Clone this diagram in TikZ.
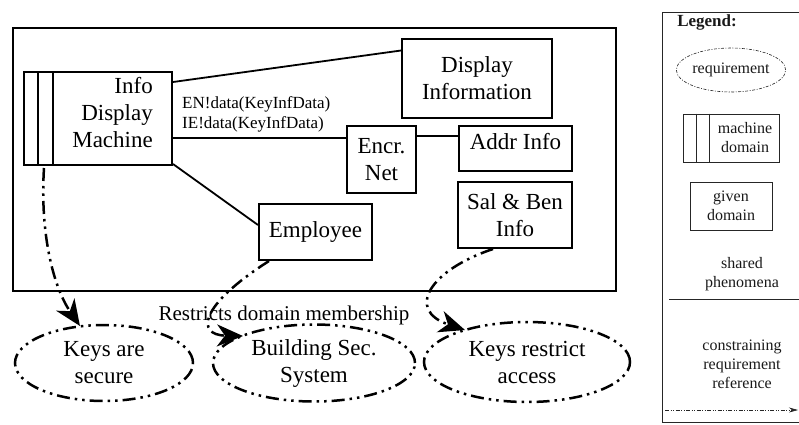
\documentclass[tikz,border=0pt]{standalone}
\usepackage{fontspec}
\setmainfont{Liberation Serif}
\usetikzlibrary{shapes.geometric,arrows.meta,calc}

\tikzset{
  dashdotdot/.style={dash pattern=on 13pt off 5pt on 2.5pt off 5pt on 2.5pt off 5pt},
  bigtxt/.style={font=\fontsize{23}{27}\selectfont},
  dombox/.style={draw, line width=2pt, rectangle, inner sep=0pt, align=center, bigtxt},
  reqell/.style={draw, ellipse, line width=2.5pt, dashdotdot, inner sep=0pt, align=center, bigtxt},
  phen/.style={line width=1.8pt},
  reqref/.style={line width=2.5pt, dashdotdot, -{Stealth[length=26pt,width=22pt,inset=8pt]}},
  lgline/.style={line width=0.8pt, draw=black!85},
  lgtxt/.style={font=\fontsize{16}{19}\selectfont, text=black!90, align=center, inner sep=0pt},
}

\begin{document}
\begin{tikzpicture}[x=1pt,y=-1pt]
\useasboundingbox (0,0) rectangle (799,424);

% outer frame of the problem context
\draw[line width=2.5pt] (13,28) rectangle (616,291);

% machine domain with its two stripes
\node[dombox, minimum width=148pt, minimum height=93pt] (mach) at (98,118.5) {};
\draw[line width=2pt] ($(mach.north west)+(15,0)$) -- ($(mach.south west)+(15,0)$);
\draw[line width=2pt] ($(mach.north west)+(30,0)$) -- ($(mach.south west)+(30,0)$);
\node[bigtxt, align=right, anchor=east, inner sep=0pt] (machtxt) at (153,113) {Info\\Display\\Machine};

% given domains
\node[dombox, minimum width=150pt, minimum height=79pt] (disp) at (477,78.5) {Display\\Information};
\node[dombox, minimum width=69pt, minimum height=67pt] (encr) at (381.5,159.5) {Encr.\\Net};
\node[dombox, minimum width=113pt, minimum height=45pt, text depth=14pt] (addr) at (515.5,148.5) {Addr Info};
\node[dombox, minimum width=114pt, minimum height=66pt] (sal) at (515,215) {Sal \& Ben\\Info};
\node[dombox, minimum width=113pt, minimum height=56pt] (emp) at (315.5,232) {Employee};

% shared phenomena
\draw[phen] ([yshift=-11pt]mach.north east) -- ([yshift=28pt]disp.west);
\draw[phen] ([yshift=-19.5pt]mach.east) -- ([yshift=-19.5pt]mach.east -| encr.west);
\draw[phen] ([yshift=12.5pt]addr.west -| encr.east) -- ([yshift=12.5pt]addr.west);
\draw[phen] ([yshift=2pt]mach.south east) -- ([yshift=7pt]emp.west);

\node[font=\fontsize{17}{20}\selectfont, anchor=west, inner sep=0pt] (lab1) at (182,104) {EN!data(KeyInfData)};
\node[font=\fontsize{17}{20}\selectfont, anchor=west, inner sep=0pt] (lab2) at (182,124) {IE!data(KeyInfData)};

% requirements
\node[reqell, minimum width=178pt, minimum height=76pt] (r1) at (104,363) {Keys are\\secure};
\node[reqell, minimum width=202pt, minimum height=77pt] (r2) at (314,363) {Building Sec.\\System};
\node[reqell, minimum width=206pt, minimum height=80pt] (r3) at (527,362) {Keys restrict\\access};

\node[font=\fontsize{21}{24}\selectfont, inner sep=0pt] (rlab) at (284,315) {Restricts domain membership};

% constraining references
\coordinate (a1) at ($(mach.south west)+(21,2)$);
\coordinate (a2) at ($(emp.south west)+(11,0)$);
\coordinate (a3) at ($(sal.south)+(-22,0)$);
\draw[reqref] (a1) .. controls (40,230) and (52,285) .. ($(r1.center)+(-24,-37)$);
\draw[reqref] (a2) .. controls (200,305) and (195,335) .. ($(r2.center)+(-71,-27)$);
\draw[reqref] (a3) .. controls (430,270) and (405,310) .. ($(r3.center)+(-62,-32)$);

% legend
\draw[lgline] (799,12) -- (662,12) -- (662,422) -- (799,422);
\node[lgtxt, font=\bfseries\fontsize{17}{20}\selectfont] (lgtitle) at (707,22) {Legend:};
\node[draw=black!85, ellipse, line width=0.6pt, dash pattern=on 3pt off 1.5pt on 1pt off 1.5pt, minimum width=96pt, minimum height=44pt, lgtxt] (lgreq) at (731,70) {requirement};
\node[draw=black!85, line width=0.8pt, rectangle, minimum width=96pt, minimum height=48pt] (lgmach) at (731,138) {};
\draw[lgline] ($(lgmach.north west)+(14,0)$) -- ($(lgmach.south west)+(14,0)$);
\draw[lgline] ($(lgmach.north west)+(27,0)$) -- ($(lgmach.south west)+(27,0)$);
\node[lgtxt] (lgmachtxt) at (745,138) {machine\\domain};
\node[draw=black!85, line width=0.8pt, rectangle, minimum width=82pt, minimum height=48pt, lgtxt] (lggiven) at (731,206) {given\\domain};
\node[lgtxt] (lgshared) at (742,274) {shared\\phenomena};
\coordinate (lgl1) at (669,299);
\coordinate (lgl2) at (799,299);
\draw[lgline] (lgl1) -- (lgl2);
\node[lgtxt] (lgcons) at (742,364) {constraining\\requirement\\reference};
\coordinate (lga1) at (665,410);
\coordinate (lga2) at (798,410);
\draw[line width=0.7pt, draw=black!85, dash pattern=on 4pt off 1.5pt on 1pt off 1.5pt on 1pt off 1.5pt, -{Stealth[length=9pt,width=5pt]}] (lga1) -- (lga2);
\end{tikzpicture}
\end{document}
